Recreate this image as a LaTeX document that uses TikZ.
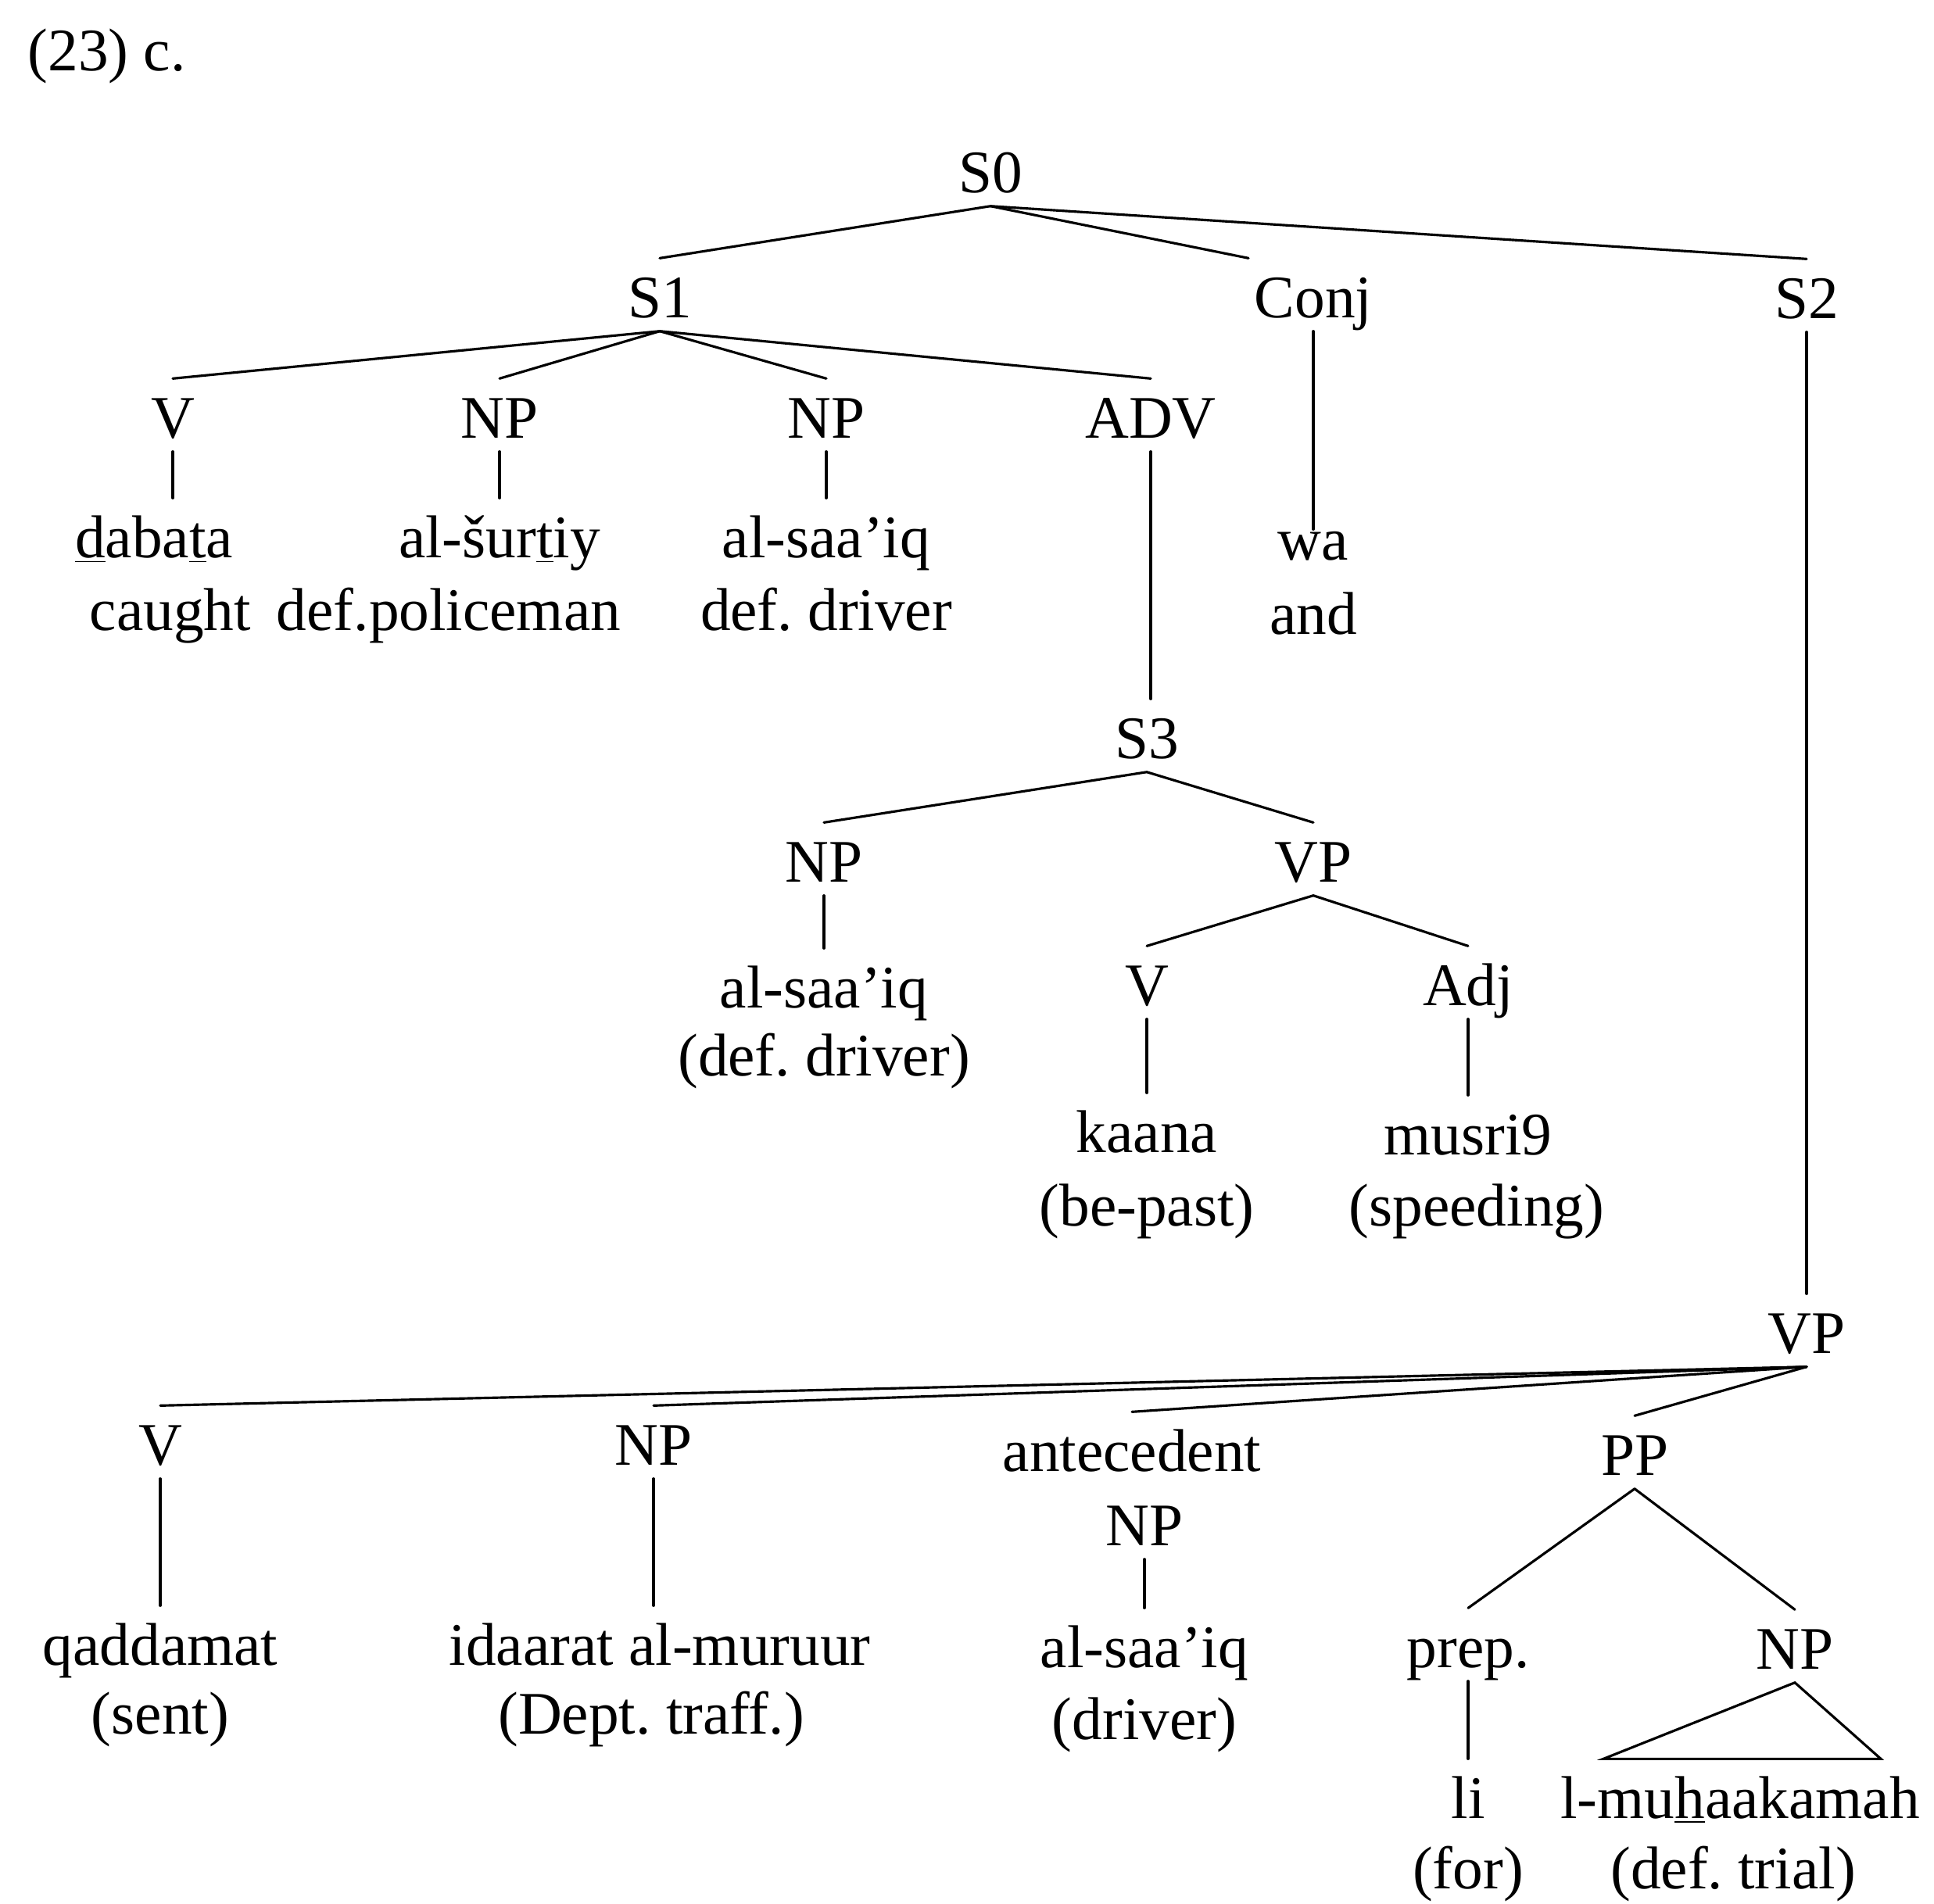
\documentclass[tikz,border=0pt]{standalone}
\usepackage{fontspec}
\setmainfont{Liberation Serif}
\usetikzlibrary{calc}

\begin{document}
\begin{tikzpicture}[
  font=\fontsize{22}{26}\selectfont,
  tn/.style={anchor=base, inner xsep=2pt, inner ysep=0pt, text height=0.75cm, text depth=0.17cm},
  br/.style={line width=0.9pt, line cap=round},
]
  \useasboundingbox (0,0) rectangle (24.74,-24.35);
  \node[anchor=base west, inner sep=0pt] (exno) at (0.35,-0.90) {(23) c.};

  \node[tn] (s0)   at (12.67,-2.46) {S0};
  \node[tn] (s1)   at (8.44,-4.06)  {S1};
  \node[tn] (conj) at (16.80,-4.06) {Conj};
  \node[tn] (s2)   at (23.11,-4.07) {S2};

  \node[tn] (v1)  at (2.21,-5.60)  {V};
  \node[tn] (np1) at (6.39,-5.60)  {NP};
  \node[tn] (np2) at (10.57,-5.60) {NP};
  \node[tn] (adv) at (14.72,-5.60) {ADV};

  \node[tn] (dabata)   at (1.97,-7.13)  {\underline{d}aba\underline{t}a};
  \node[tn] (alsurtiy) at (6.39,-7.13)  {al-šur\underline{t}iy};
  \node[tn] (saaiqa)   at (10.57,-7.13) {al-saa’iq};
  \node[tn, text height=0.38cm] (wa) at (16.80,-7.16) {wa};
  \node[tn] (caught)   at (2.18,-8.06)  {caught};
  \node[tn] (defpol)   at (5.74,-8.06)  {def.policeman};
  \node[tn] (defdrva)  at (10.57,-8.06) {def.\ driver};
  \node[tn] (and)      at (16.80,-8.11) {and};

  \node[tn] (s3)  at (14.67,-9.70)  {S3};
  \node[tn] (np3) at (10.54,-11.28) {NP};
  \node[tn] (vp1) at (16.80,-11.28) {VP};
  \node[tn] (saaiqb)  at (10.54,-12.89) {al-saa’iq};
  \node[tn] (defdrvb) at (10.54,-13.76) {(def.\ driver)};
  \node[tn] (v2)  at (14.67,-12.86) {V};
  \node[tn] (adj) at (18.78,-12.86) {Adj};
  \node[tn] (kaana)    at (14.67,-14.74) {kaana};
  \node[tn] (bepast)   at (14.67,-15.68) {(be-past)};
  \node[tn] (musri)    at (18.78,-14.77) {musri9};
  \node[tn] (speeding) at (18.89,-15.68) {(speeding)};

  \node[tn] (vp2)   at (23.11,-17.31) {VP};
  \node[tn] (v3)    at (2.05,-18.74)  {V};
  \node[tn] (np4)   at (8.36,-18.74)  {NP};
  \node[tn] (ant)   at (14.48,-18.82) {antecedent};
  \node[tn] (antnp) at (14.64,-19.77) {NP};
  \node[tn] (pp)    at (20.91,-18.87) {PP};
  \node[tn] (qaddamat) at (2.05,-21.30)  {qaddamat};
  \node[tn] (sent)     at (2.05,-22.18)  {(sent)};
  \node[tn] (idaarat)  at (8.44,-21.30)  {idaarat al-muruur};
  \node[tn] (dept)     at (8.33,-22.18)  {(Dept.\ traff.)};
  \node[tn] (saaiqc)   at (14.64,-21.33) {al-saa’iq};
  \node[tn] (driver)   at (14.64,-22.25) {(driver)};
  \node[tn] (prep) at (18.78,-21.33) {prep.};
  \node[tn] (np5)  at (22.96,-21.35) {NP};
  \node[tn] (li)       at (18.78,-23.26) {li};
  \node[tn] (lmuh)     at (22.26,-23.26) {l-mu\underline{h}aakamah};
  \node[tn] (for)      at (18.78,-24.16) {(for)};
  \node[tn] (deftrial) at (22.17,-24.16) {(def.\ trial)};

  \draw[br] (s0.south) -- (s1.north);
  \draw[br] (s0.south) -- (conj.north west);
  \draw[br] (s0.south) -- (s2.north);
  \draw[br] (s1.south) -- (v1.north);
  \draw[br] (s1.south) -- (np1.north);
  \draw[br] (s1.south) -- (np2.north);
  \draw[br] (s1.south) -- (adv.north);
  \draw[br] (v1.south) -- (v1.south |- dabata.north);
  \draw[br] (np1.south) -- (alsurtiy.north);
  \draw[br] (np2.south) -- (np2.south |- saaiqa.north);
  \draw[br] (conj.south) -- (wa.north);
  \draw[br] (adv.south) -- (adv.south |- s3.north);
  \draw[br] (s2.south) -- (vp2.north);

  \draw[br] (s3.south) -- (np3.north);
  \draw[br] (s3.south) -- (vp1.north);
  \draw[br] (np3.south) -- (saaiqb.north);
  \draw[br] (vp1.south) -- (v2.north);
  \draw[br] (vp1.south) -- (adj.north);
  \draw[br] (v2.south) -- (kaana.north);
  \draw[br] (adj.south) -- (musri.north);

  \draw[br] (vp2.south) -- (v3.north);
  \draw[br] (vp2.south) -- (np4.north);
  \draw[br] (vp2.south) -- (ant.north);
  \draw[br] (vp2.south) -- (pp.north);
  \draw[br] (v3.south) -- (qaddamat.north);
  \draw[br] (np4.south) -- (np4.south |- idaarat.north);
  \draw[br] (antnp.south) -- (saaiqc.north);
  \draw[br] (pp.south) -- (prep.north);
  \draw[br] (pp.south) -- (np5.north);
  \draw[br] (prep.south) -- (prep.south |- li.north);
  \draw[br] (np5.south) -- ($(lmuh.north)+(-1.75,0)$) -- ($(lmuh.north)+(1.8,0)$) -- cycle;
\end{tikzpicture}
\end{document}
